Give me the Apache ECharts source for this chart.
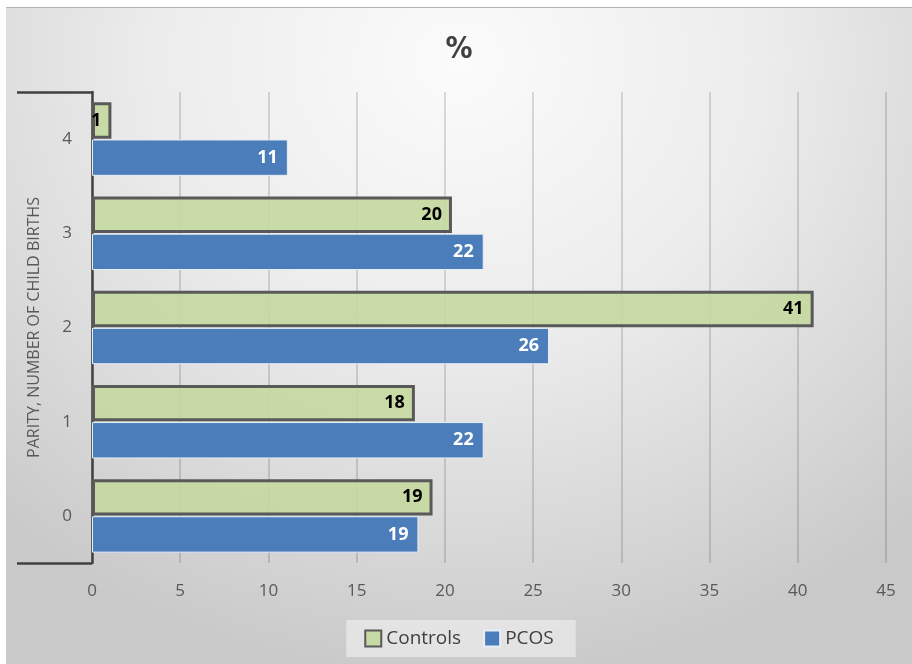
<!DOCTYPE html>
<html><head><meta charset="utf-8">
<script src="https://cdn.jsdelivr.net/npm/echarts@6/dist/echarts.min.js"></script>
<style>
html,body{margin:0;padding:0;background:#fff;width:912px;height:664px;overflow:hidden}
#c{position:absolute;left:6px;top:7px;width:906px;height:657px;
background:radial-gradient(ellipse 75% 95% at 50% 8%, #fbfbfb 0%, #ececec 45%, #d6d6d6 80%, #c9c9c9 100%);
border-top:1px solid #b4b4b4;box-sizing:border-box}
</style></head><body>
<div id="c"></div>
<script>
const categories = ['0','1','2','3','4'];
const controls = [19.3, 18.3, 40.9, 20.4, 1.1];
const pcos = [18.5, 22.2, 25.9, 22.2, 11.1];
const xTicks = [0,5,10,15,20,25,30,35,40,45];
const seriesNames = ['Controls','PCOS'];

const chart = echarts.init(document.getElementById('c'));
const font = '"Open Sans", "Liberation Sans", sans-serif';
chart.setOption({
  animation:false,
  title:{text:'%', left:'center', top:22, textStyle:{fontFamily:'"Liberation Sans Narrow","DejaVu Sans Condensed",sans-serif', fontSize:30, fontWeight:'bold', color:'#404040'}},
  legend:{
    data:[{name:seriesNames[0]},{name:seriesNames[1]}],
    bottom:7, left:'center', itemWidth:16, itemHeight:16, itemGap:22, icon:'rect',
    backgroundColor:'rgba(232,232,232,0.8)', padding:[9,22,9,18],
    textStyle:{fontFamily:font, fontSize:19, color:'#404040'}
  },
  grid:{left:86, right:26, top:84, bottom:101},
  xAxis:{type:'value', min:0, max:45, interval:5,
    axisLine:{show:false}, axisTick:{show:false},
    axisLabel:{margin:20, fontFamily:font, fontSize:17, color:'#595959',
      formatter:(v)=> xTicks.includes(v) ? String(v) : ''},
    splitLine:{show:true, lineStyle:{color:'rgba(0,0,0,0.18)', width:1.5}}
  },
  yAxis:[
    {type:'category', data:categories, position:'left',
     name:'PARITY, NUMBER OF CHILD BIRTHS', nameLocation:'middle', nameGap:50, nameRotate:90,
     nameTextStyle:{fontFamily:font, fontSize:16, color:'#595959'},
     axisLine:{show:false}, axisTick:{show:false},
     axisLabel:{margin:20, fontFamily:font, fontSize:17, color:'#595959'}},
    {type:'category', data:[''], position:'left',
     axisLine:{show:true, lineStyle:{color:'#404040', width:2.5}},
     axisTick:{show:true, length:75, lineStyle:{color:'#404040', width:2.5}},
     axisLabel:{show:false}, splitLine:{show:false}}
  ],
  series:[
    {name:seriesNames[0], type:'bar', data:controls, yAxisIndex:0,
     barCategoryGap:'22%', barGap:'2%',
     itemStyle:{color:'rgba(196,216,158,0.9)', borderColor:'#595959', borderWidth:3},
     label:{show:true, position:'insideRight', distance:10, color:'#000000',
       fontFamily:font, fontWeight:'bold', fontSize:18, formatter:(p)=>Math.round(p.value)}},
    {name:seriesNames[1], type:'bar', data:pcos, yAxisIndex:0,
     barCategoryGap:'22%', barGap:'2%',
     itemStyle:{color:'#4a7dba', borderColor:'#e8eef6', borderWidth:1},
     label:{show:true, position:'insideRight', distance:10, color:'#ffffff',
       fontFamily:font, fontWeight:'bold', fontSize:18, formatter:(p)=>Math.round(p.value)}}
  ]
});
</script>
</body></html>
